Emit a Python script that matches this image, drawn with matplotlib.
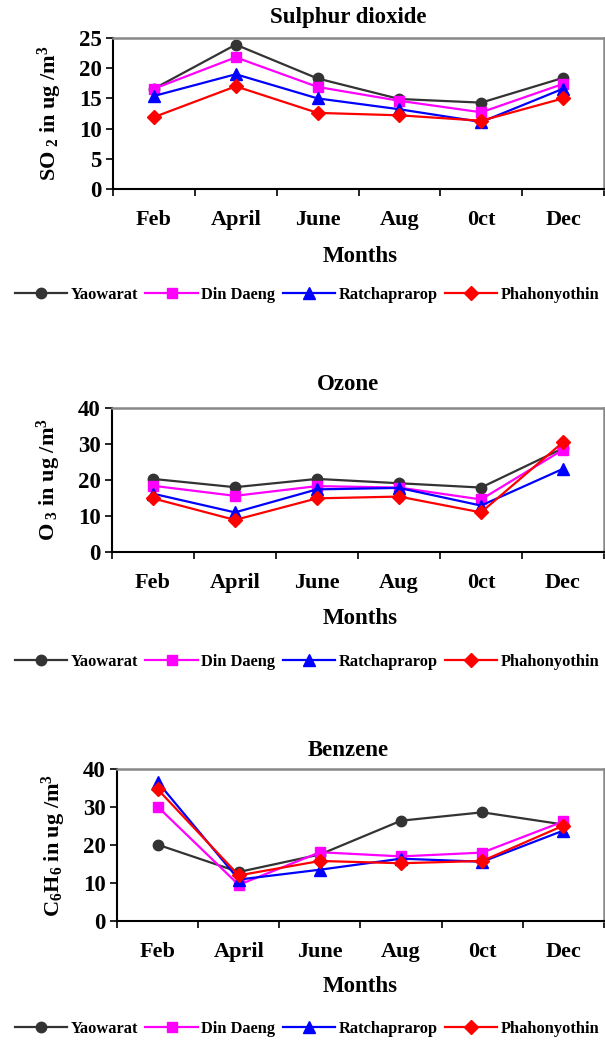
import numpy as np
import matplotlib
matplotlib.use('Agg')
import matplotlib.pyplot as plt

plt.rcParams['font.family'] = ['Liberation Serif', 'DejaVu Serif']
plt.rcParams['font.weight'] = 'bold'
plt.rcParams['mathtext.fontset'] = 'custom'
plt.rcParams['mathtext.rm'] = 'Liberation Serif:bold'
plt.rcParams['mathtext.it'] = 'Liberation Serif:bold'
plt.rcParams['mathtext.bf'] = 'Liberation Serif:bold'

months = ['Feb', 'April', 'June', 'Aug', '0ct', 'Dec']
stations = ['Yaowarat', 'Din Daeng', 'Ratchaprarop', 'Phahonyothin']

so2_yaowarat = [16.6, 23.9, 18.3, 14.9, 14.3, 18.4]
so2_dindaeng = [16.6, 21.8, 16.9, 14.6, 12.7, 17.4]
so2_ratchaprarop = [15.4, 19.0, 15.0, 13.2, 11.1, 16.6]
so2_phahonyothin = [11.9, 17.0, 12.6, 12.2, 11.3, 15.0]

o3_yaowarat = [20.3, 18.0, 20.3, 19.1, 17.9, 28.8]
o3_dindaeng = [18.4, 15.6, 18.3, 17.9, 14.6, 28.4]
o3_ratchaprarop = [16.2, 11.0, 17.4, 17.8, 12.9, 23.1]
o3_phahonyothin = [14.9, 8.9, 14.9, 15.4, 11.0, 30.5]

c6h6_yaowarat = [20.1, 12.9, 17.5, 26.4, 28.6, 25.4]
c6h6_dindaeng = [30.1, 9.5, 18.1, 17.0, 18.0, 26.2]
c6h6_ratchaprarop = [36.6, 10.9, 13.5, 16.4, 15.6, 23.8]
c6h6_phahonyothin = [34.7, 12.0, 15.8, 15.2, 15.8, 25.1]

colors = ['#333333', '#ff00ff', '#0000ff', '#ff0000']
markers = ['o', 's', '^', 'D']
msizes = [7.5, 7.5, 8.5, 7.0]

W, H = 605, 1044
fig = plt.figure(figsize=(W / 100, H / 100), dpi=100)


def px_axes(left, top, right, bottom):
    return fig.add_axes([left / W, 1 - bottom / H, (right - left) / W, (bottom - top) / H])


def panel(left, top, bottom, series, ymax, ystep, title, ylabel, title_y, months_y, legend_y):
    ax = px_axes(left, top, 604, bottom)
    x = np.arange(len(months))
    lines = []
    for i in range(len(series)):
        l, = ax.plot(x, series[i], color=colors[i], marker=markers[i], markersize=msizes[i],
                     linewidth=1.6, label=stations[i], clip_on=False)
        lines.append(l)
    ax.set_xlim(-0.5, 5.5)
    ax.set_ylim(0, ymax)
    ax.set_yticks(np.arange(0, ymax + 1, ystep))
    ax.set_xticks(np.arange(-0.5, 6.0, 1.0))
    ax.set_xticklabels([])
    ax.set_xticks(x, minor=True)
    ax.set_xticklabels(months, minor=True, fontsize=16, fontweight='bold')
    ax.tick_params(axis='x', which='major', direction='out', length=5, width=1.2)
    ax.tick_params(axis='x', which='minor', length=0, pad=15)
    ax.tick_params(axis='y', direction='out', length=5, width=1.2, pad=3, labelsize=16.5)
    for t in ax.get_yticklabels():
        t.set_fontweight('bold')
    ax.spines['left'].set_linewidth(1.5)
    ax.spines['bottom'].set_linewidth(1.5)
    ax.spines['top'].set_color('#888888')
    ax.spines['top'].set_linewidth(1.8)
    ax.spines['right'].set_color('#888888')
    ax.spines['right'].set_linewidth(1.8)
    ax.set_ylabel(ylabel, fontsize=16, fontweight='bold', labelpad=11)
    fig.text(348 / W, 1 - title_y / H, title, ha='center', va='center',
             fontsize=16.5, fontweight='bold')
    fig.text(360 / W, 1 - months_y / H, 'Months', ha='center', va='center',
             fontsize=16.5, fontweight='bold')
    fig.legend(lines, stations, loc='center', bbox_to_anchor=(307 / W, 1 - legend_y / H),
               ncol=4, frameon=False, handlelength=3.2, handletextpad=0.2,
               columnspacing=0.45, prop={'size': 11.8, 'weight': 'bold'})
    return ax


panel(113, 38, 189, [so2_yaowarat, so2_dindaeng, so2_ratchaprarop, so2_phahonyothin],
      25, 5, 'Sulphur dioxide', r'SO$_{\ 2}$ in ug /m$^{3}$', 17, 256, 295)
panel(112, 408, 552, [o3_yaowarat, o3_dindaeng, o3_ratchaprarop, o3_phahonyothin],
      40, 10, 'Ozone', r'O$_{\ 3}$ in ug /m$^{3}$', 384, 618, 662)
panel(117, 769, 921, [c6h6_yaowarat, c6h6_dindaeng, c6h6_ratchaprarop, c6h6_phahonyothin],
      40, 10, 'Benzene', r'C$_{6}$H$_{6}$ in ug /m$^{3}$', 750, 987, 1029)

fig.savefig('out.png', dpi=100)
